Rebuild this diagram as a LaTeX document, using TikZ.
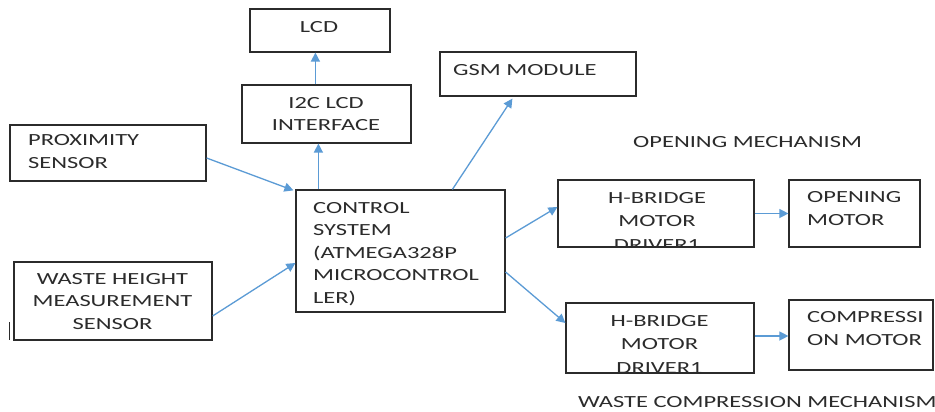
\documentclass[tikz,border=0pt]{standalone}
\usepackage{fontspec}
\setmainfont{Carlito}[FakeStretch=1.44]
\usetikzlibrary{arrows.meta}
\definecolor{ink}{HTML}{2B2B2B}
\definecolor{linkblue}{HTML}{5B9BD5}
\begin{document}
\begin{tikzpicture}[x=1pt,y=-1pt,
  box/.style={draw=ink, line width=1.2pt, inner sep=0pt},
  txt/.style={text=ink, font=\fontsize{17}{22.5}\selectfont, inner sep=0pt, align=left},
  ctxt/.style={txt, align=center},
  drvtxt/.style={ctxt, font=\fontsize{17}{23.5}\selectfont},
  arr/.style={draw=linkblue, line width=1.3pt, -{Triangle[length=9pt,width=9pt]}}]
\clip (0,0) rectangle (935,412);
\fill[white] (0,0) rectangle (935,412);

% blocks
\node[box, minimum width=140pt, minimum height=43pt] (lcd)   at (320,30.5) {};
\node[box, minimum width=169pt, minimum height=58pt] (i2c)   at (326.5,114) {};
\node[box, minimum width=196pt, minimum height=44pt] (gsm)   at (538,74) {};
\node[box, minimum width=196pt, minimum height=56pt] (prox)  at (108,153) {};
\node[box, minimum width=209pt, minimum height=122pt] (ctrl) at (400.5,251) {};
\node[box, minimum width=198pt, minimum height=78pt] (waste) at (113,301) {};
\node[box, minimum width=196pt, minimum height=67pt] (hb1)   at (656,213.5) {};
\node[box, minimum width=131pt, minimum height=67pt] (open)  at (854.5,213.5) {};
\node[box, minimum width=188pt, minimum height=70pt] (hb2)   at (660,338) {};
\node[box, minimum width=144pt, minimum height=70pt] (comp)  at (861,335) {};
\draw[ink, line width=1.2pt] (9.5,322) -- (9.5,340);

% block texts (anchored at the baseline of the last line)
\node[ctxt, anchor=base] (lcd-t) at (319,33) {LCD};
\node[ctxt, anchor=base] (i2c-t) at (326,131) {I2C LCD\\INTERFACE};
\node[txt, anchor=base west] (gsm-t) at (453,76) {GSM MODULE};
\node[txt, anchor=base west] (prox-t) at (28,168) {PROXIMITY\\SENSOR};
\node[txt, anchor=base west] (ctrl-t) at (313,303) {CONTROL\\SYSTEM\\(ATMEGA328P\\MICROCONTROL\\LER)};
\node[ctxt, anchor=base] (waste-t) at (112.5,329) {WASTE HEIGHT\\MEASUREMENT\\SENSOR};
\begin{scope}
  \clip (hb1.north west) rectangle (hb1.south east);
  \node[drvtxt, anchor=base] (hb1-t) at (657,250) {H-BRIDGE\\MOTOR\\DRIVER1};
\end{scope}
\begin{scope}
  \clip (hb2.north west) rectangle (hb2.south east);
  \node[drvtxt, anchor=base] (hb2-t) at (659.5,373) {H-BRIDGE\\MOTOR\\DRIVER1};
\end{scope}
\node[txt, anchor=base west] (open-t) at (807,225) {OPENING\\MOTOR};
\node[txt, anchor=base west] (comp-t) at (807,345) {COMPRESSI\\ON MOTOR};

% group captions
\node[txt, anchor=base west] (mech1) at (633,147) {OPENING MECHANISM};
\node[txt, anchor=base west] (mech2) at (578,407) {WASTE COMPRESSION MECHANISM};

% connectors
\draw[arr] ([xshift=74pt]i2c.north west) -- ([xshift=66pt]lcd.south west);
\draw[arr] ([xshift=23pt]ctrl.north west) -- ([xshift=77pt]i2c.south west);
\draw[arr] ([yshift=-5pt]prox.east) -- ([xshift=-2pt,yshift=-1pt]ctrl.north west);
\draw[arr] ([yshift=-15pt]waste.east) -- ([yshift=-12pt]ctrl.west);
\draw[arr] ([xshift=157pt]ctrl.north west) -- ([xshift=73pt,yshift=-2pt]gsm.south west);
\draw[arr] ([yshift=13pt]ctrl.east) -- ([yshift=6.5pt]hb1.west);
\draw[arr] ([yshift=-21pt]ctrl.east) -- ([yshift=15pt]hb2.west);
\draw[arr] (hb1.east) -- (hb1.east -| open.west);
\draw[arr] ([yshift=2pt]hb2.east) -- ([yshift=2pt]hb2.east -| comp.west);
\end{tikzpicture}
\end{document}
